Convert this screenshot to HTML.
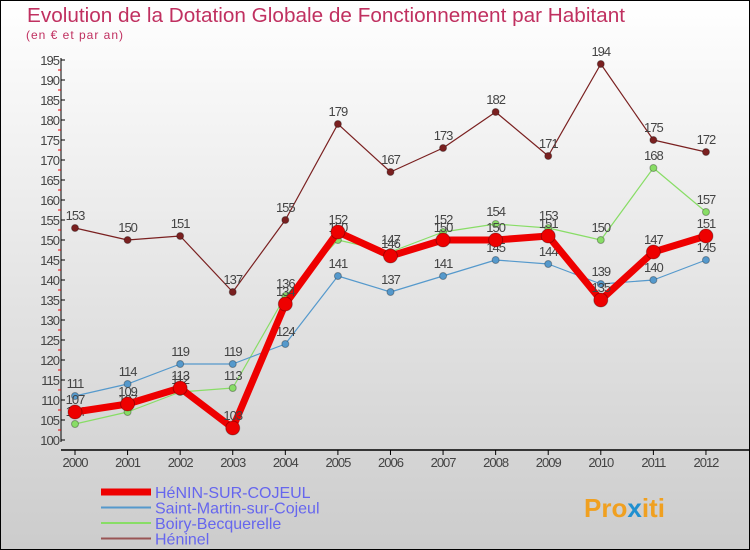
<!DOCTYPE html>
<html><head><meta charset="utf-8"><style>
body{margin:0;width:750px;height:550px;overflow:hidden;font-family:"Liberation Sans",sans-serif}
svg{display:block}
</style></head><body>
<svg id="c" width="750" height="550">
<defs><linearGradient id="bg" x1="0" y1="0" x2="0" y2="1"><stop offset="0" stop-color="#ffffff"/><stop offset="1" stop-color="#cccccc"/></linearGradient></defs>
<rect x="0.5" y="0.5" width="749" height="549" fill="url(#bg)" stroke="#000"/>
<text x="27" y="22" font-size="20" fill="#c03060" textLength="598" lengthAdjust="spacingAndGlyphs">Evolution de la Dotation Globale de Fonctionnement par Habitant</text>
<text x="26" y="39" font-size="12" fill="#c03060" textLength="97">(en € et par an)</text>
<g id="axes"></g><g id="series"></g><g id="legend"></g>
<text x="584" y="517" font-size="26" font-weight="bold" fill="#f0a020">Pro<tspan fill="#2090d0">x</tspan>iti</text>
</svg>
<script>
const years=[2000,2001,2002,2003,2004,2005,2006,2007,2008,2009,2010,2011,2012];
const henin=[107,109,113,103,134,152,146,150,150,151,135,147,151];
const stMartin=[111,114,119,119,124,141,137,141,145,144,139,140,145];
const boiry=[104,107,112,113,136,150,147,152,154,153,150,168,157];
const heninel=[153,150,151,137,155,179,167,173,182,171,194,175,172];
const yTicks=[100,105,110,115,120,125,130,135,140,145,150,155,160,165,170,175,180,185,190,195];
const NS="http://www.w3.org/2000/svg";
const X=i=>75+i*52.58, Y=v=>440-(v-100)*4;
function mk(t,a,p){const e=document.createElementNS(NS,t);for(const k in a)e.setAttribute(k,a[k]);p.appendChild(e);return e;}
const ax=document.getElementById('axes');
let l=mk('line',{x1:61,y1:58,x2:61,y2:442,stroke:'#000'},ax);


l=mk('line',{x1:61,y1:450,x2:750,y2:450,stroke:'#000','stroke-width':1.5},ax);


yTicks.forEach(v=>{
 mk('line',{x1:61,y1:Y(v),x2:65,y2:Y(v),stroke:'#000'},ax);
 if(v<195)mk('line',{x1:58,y1:Y(v+2.5),x2:61,y2:Y(v+2.5),stroke:'#e00'},ax);
 const t=mk('text',{x:59,y:Y(v)+5,'font-size':13,'text-anchor':'end',fill:'#444','letter-spacing':'-1'},ax);
 t.textContent=v;
 
 
});
years.forEach((y,i)=>{
 mk('line',{x1:X(i),y1:450,x2:X(i),y2:455,stroke:'#000'},ax);
 const t=mk('text',{x:X(i),y:467,'font-size':13,'text-anchor':'middle',fill:'#444','letter-spacing':'-1'},ax);
 t.textContent=y;
 
 
});
const sg=document.getElementById('series');
function draw(d,col,w,r,name){
 const g=mk('g',{},sg);
 
 
 mk('polyline',{points:d.map((v,i)=>X(i)+','+Y(v)).join(' '),fill:'none',stroke:col,'stroke-width':w,'stroke-linejoin':'round'},g);
 d.forEach((v,i)=>{
  const c=mk('circle',{cx:X(i),cy:Y(v),r:r,fill:col,stroke:'rgba(0,0,0,0.3)'},g);
  
  
  const t=mk('text',{x:X(i),y:Y(v)-8,'font-size':13,'text-anchor':'middle',fill:'#444','letter-spacing':'-1'},g);
  t.textContent=v;
  
  
 });
}
draw(heninel,'#7a2020',1.2,3.5,'series-heninel');
draw(boiry,'#88dd66',1.2,3.5,'series-boiry-becquerelle');
draw(stMartin,'#5599cc',1.2,3.5,'series-saint-martin');
draw(henin,'#ee0000',7,7,'series-henin-sur-cojeul');
const lg=document.getElementById('legend');
const items=[['HéNIN-SUR-COJEUL','#ee0000',7],['Saint-Martin-sur-Cojeul','#5599cc',2],['Boiry-Becquerelle','#88dd66',2],['Héninel','#995555',2]];
items.forEach((it,i)=>{
 const y=492+i*15.5;
 mk('line',{x1:101,y1:y,x2:151,y2:y,stroke:it[1],'stroke-width':it[2]},lg);
 const t=mk('text',{x:155,y:y+6,'font-size':16,fill:'#6666ee'},lg);
 t.textContent=it[0];
 
 
});
</script>
</body></html>
